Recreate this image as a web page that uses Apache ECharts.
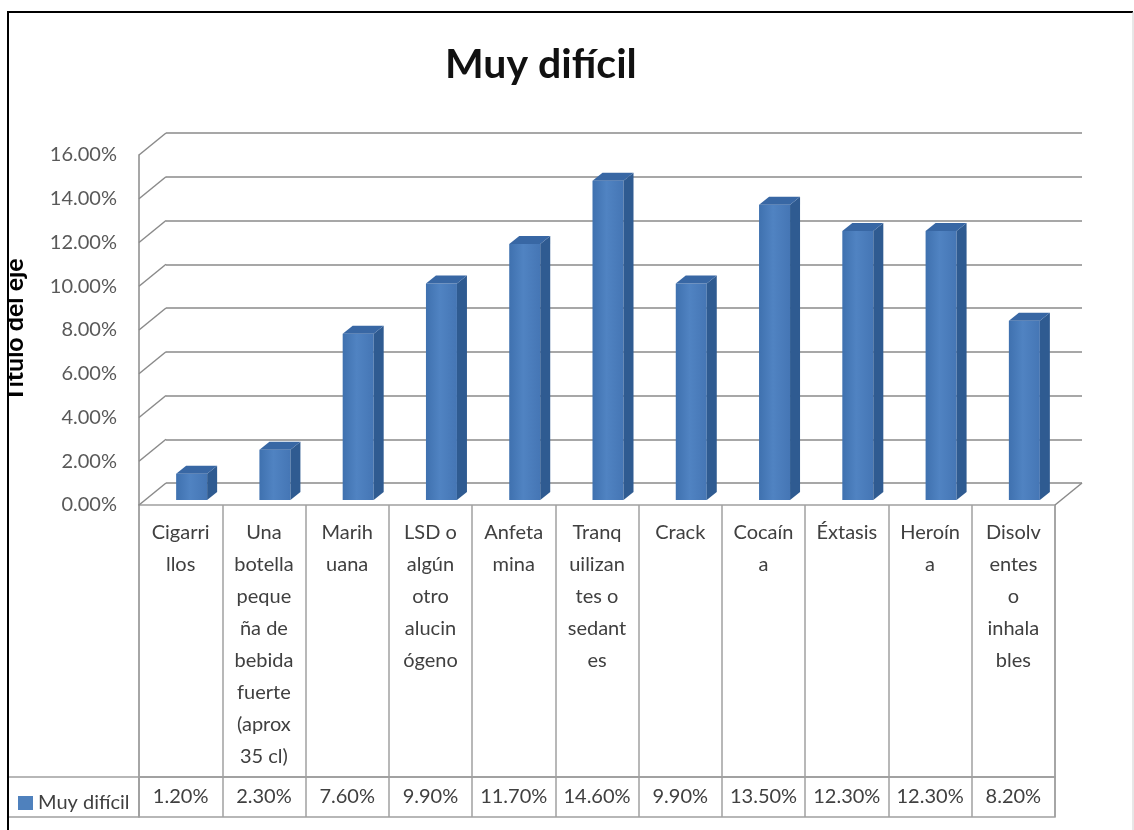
<!DOCTYPE html>
<html>
<head>
<meta charset="utf-8">
<script src="https://cdn.jsdelivr.net/npm/echarts@6/dist/echarts.min.js"></script>
<style>
  html, body { margin: 0; padding: 0; background: #fff; }
  #chart { width: 1134px; height: 830px; }
</style>
</head>
<body>
<div id="chart"></div>
<script>
// datos del grafico
var serieNombre = 'Muy difícil';
var etiquetas = [
    'Cigarri\nllos',
    'Una\nbotella\npeque\nña de\nbebida\nfuerte\n(aprox\n35 cl)',
    'Marih\nuana',
    'LSD o\nalgún\notro\nalucin\nógeno',
    'Anfeta\nmina',
    'Tranq\nuilizan\ntes o\nsedant\nes',
    'Crack',
    'Cocaín\na',
    'Éxtasis',
    'Heroín\na',
    'Disolv\nentes\no\ninhala\nbles'
];
var valores = [1.2, 2.3, 7.6, 9.9, 11.7, 14.6, 9.9, 13.5, 12.3, 12.3, 8.2];
var ticksY = [0, 2, 4, 6, 8, 10, 12, 14, 16];

// efecto 3D (pixeles)
var DEPTH_X = 27, DEPTH_Y = 22;
var BAR_DX = 11, BAR_DY = -5, BAR_W = 31, SIDE_X = 10, SIDE_Y = 8;
var FONT = 'Lato';
var lineCol = '#8a8a8a';
var tableCol = '#a0a0a0';

var chart = echarts.init(document.getElementById('chart'));

function renderWalls(params, api) {
    var v = api.value(1);
    var p = api.coord([0, v]);
    var half = api.size([1, 0])[0] / 2;
    var x = p[0] - half;
    var st = { stroke: lineCol, lineWidth: 1.5 };
    var children = [{
        type: 'line',
        shape: { x1: x, y1: p[1], x2: x + DEPTH_X, y2: p[1] - DEPTH_Y },
        style: st
    }];
    if (v === 0) {
        var q = api.coord([etiquetas.length - 1, 0]);
        var xr = q[0] + half;
        children.push({
            type: 'line',
            shape: { x1: xr, y1: q[1], x2: xr + DEPTH_X, y2: q[1] - DEPTH_Y },
            style: st
        });
    }
    return { type: 'group', children: children };
}

function renderBar(params, api) {
    var top = api.coord([api.value(0), api.value(1)]);
    var base = api.coord([api.value(0), 0]);
    var cx = top[0] + BAR_DX;
    var x0 = cx - BAR_W / 2, x1 = cx + BAR_W / 2;
    var yt = top[1] + BAR_DY, yb = base[1] + BAR_DY;
    var front = new echarts.graphic.LinearGradient(0, 0, 1, 0, [
        { offset: 0, color: '#3f71af' },
        { offset: 0.45, color: '#5083c2' },
        { offset: 1, color: '#4576b5' }
    ]);
    return {
        type: 'group',
        children: [
            { type: 'polygon', shape: { points: [[x0, yt], [x1, yt], [x1, yb], [x0, yb]] }, style: { fill: front } },
            { type: 'polygon', shape: { points: [[x1, yt], [x1 + SIDE_X, yt - SIDE_Y], [x1 + SIDE_X, yb - SIDE_Y], [x1, yb]] }, style: { fill: '#2f5b91' } },
            { type: 'polygon', shape: { points: [[x0, yt], [x0 + SIDE_X, yt - SIDE_Y], [x1 + SIDE_X, yt - SIDE_Y], [x1, yt]] }, style: { fill: '#3867a4' } }
        ]
    };
}

var gridBase = { containLabel: false, outerBoundsMode: 'none' };
function mkGrid(o) { return Object.assign({}, gridBase, o); }

var option = {
    backgroundColor: '#fff',
    animation: false,
    title: {
        text: 'Muy difícil',
        left: 440,
        top: 39,
        textStyle: { fontFamily: FONT, fontSize: 41, fontWeight: 'bold', color: '#111' }
    },
    legend: {
        data: [{ name: serieNombre, icon: 'rect' }],
        left: 13,
        top: 788,
        itemWidth: 15,
        itemHeight: 14,
        selectedMode: false,
        textStyle: { fontFamily: FONT, fontSize: 20, color: '#404040' }
    },
    grid: [
        // pared del fondo
        mkGrid({ left: 166, top: 133, width: 916, height: 350 }),
        // plano frontal
        mkGrid({ left: 139, top: 155, width: 916, height: 350 }),
        // tabla: categorias
        mkGrid({ left: 139, top: 505, width: 916, height: 272, show: true, borderColor: tableCol, borderWidth: 1.5 }),
        // tabla: valores
        mkGrid({ left: 139, top: 777, width: 916, height: 40, show: true, borderColor: tableCol, borderWidth: 1.5 }),
        // celda de la leyenda
        mkGrid({ left: 8, top: 777, width: 131, height: 40, show: true, borderColor: tableCol, borderWidth: 1.5 })
    ],
    xAxis: [
        { gridIndex: 0, type: 'category', data: etiquetas, show: false },
        { gridIndex: 1, type: 'category', data: etiquetas, show: false },
        {
            gridIndex: 2, type: 'category', data: etiquetas, position: 'top',
            axisLine: { show: true, lineStyle: { color: tableCol, width: 1.5 } },
            axisTick: { show: false },
            splitLine: { show: true, interval: 0, lineStyle: { color: tableCol, width: 1.5 } },
            axisLabel: {
                interval: 0, inside: true, margin: 12, verticalAlign: 'top', lineHeight: 32,
                fontFamily: FONT, fontSize: 20, color: '#404040'
            }
        },
        {
            gridIndex: 3, type: 'category', position: 'top',
            data: valores.map(function (v) { return v.toFixed(2) + '%'; }),
            axisLine: { show: false },
            axisTick: { show: false },
            splitLine: { show: true, interval: 0, lineStyle: { color: tableCol, width: 1.5 } },
            axisLabel: {
                interval: 0, inside: true, margin: 20, verticalAlign: 'middle',
                fontFamily: FONT, fontSize: 20, color: '#404040'
            }
        },
        { gridIndex: 4, type: 'category', data: [''], show: false }
    ],
    yAxis: [
        {
            gridIndex: 0, type: 'value', min: 0, max: 16, interval: 2,
            axisLine: { show: false }, axisTick: { show: false }, axisLabel: { show: false },
            splitLine: { show: true, lineStyle: { color: lineCol, width: 1.5 } }
        },
        {
            gridIndex: 1, type: 'value', min: 0, max: 16, interval: 2,
            name: 'Título del eje',
            nameLocation: 'middle',
            nameRotate: 90,
            nameGap: 112,
            nameTextStyle: { fontFamily: FONT, fontSize: 25, fontWeight: 'bold', color: '#000' },
            axisLine: { show: true, lineStyle: { color: lineCol, width: 1.5 } },
            axisTick: { show: false },
            splitLine: { show: false },
            axisLabel: {
                margin: 22, fontFamily: FONT, fontSize: 20, color: '#595959',
                formatter: function (v) { return v.toFixed(2) + '%'; }
            }
        },
        { gridIndex: 2, type: 'value', show: false },
        { gridIndex: 3, type: 'value', show: false },
        { gridIndex: 4, type: 'value', show: false }
    ],
    series: [
        {
            type: 'custom',
            name: 'paredes',
            xAxisIndex: 1, yAxisIndex: 1,
            silent: true,
            renderItem: renderWalls,
            data: ticksY.map(function (t) { return [0, t]; }),
            z: 1
        },
        {
            type: 'custom',
            name: serieNombre,
            xAxisIndex: 1, yAxisIndex: 1,
            itemStyle: { color: '#4f81bd' },
            renderItem: renderBar,
            data: valores.map(function (v, i) { return [i, v]; }),
            z: 3
        }
    ],
    graphic: [
        { type: 'rect', shape: { x: 0, y: 0, width: 7, height: 830 }, style: { fill: '#fff' }, z: 100 },
        {
            type: 'polyline',
            shape: { points: [[8, 830], [8, 12], [1133, 12]] },
            style: { stroke: '#000', lineWidth: 2, fill: null },
            z: 101
        },
        {
            type: 'line',
            shape: { x1: 1133, y1: 12, x2: 1133, y2: 830 },
            style: { stroke: '#d0d0d0', lineWidth: 1 },
            z: 101
        }
    ]
};

chart.setOption(option);
</script>
</body>
</html>
